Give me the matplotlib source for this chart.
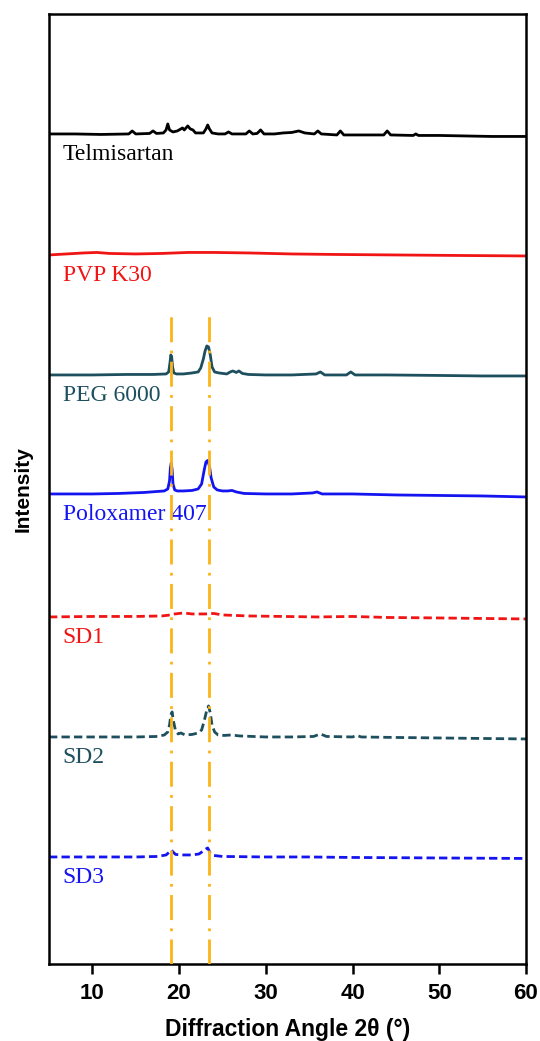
import matplotlib
matplotlib.use('Agg')
import matplotlib.pyplot as plt

# sample names, colours, line styles and vertical offsets (a.u.)
names = ['Telmisartan', 'PVP K30', 'PEG 6000', 'Poloxamer 407', 'SD1', 'SD2', 'SD3']
colors = ['#000000', '#f01414', '#1d4f5e', '#1414f0', '#f01414', '#1d4f5e', '#1414f0']
styles = ['-', '-', '-', '-', '--', '--', '--']
offsets = [830, 709, 589, 470, 347, 227, 107]

# patterns (2theta, intensity above baseline)
tel_x = [5, 8, 11, 14.2, 14.6, 15.0, 16.6, 17.0, 17.4, 18.2, 18.5, 18.7, 18.9, 19.3, 19.8, 20.2, 20.4,
         20.6, 20.8, 21.0, 21.3, 21.6, 21.9, 22.8, 23.1, 23.3, 23.5, 23.8, 24.5, 25.3, 25.7, 26.1, 27.7,
         28.1, 28.5, 29.0, 29.4, 29.8, 31.0, 32.0, 33.0, 33.8, 34.5, 35.6, 36.0, 36.4, 38.2, 38.6, 39.0,
         41.0, 43.6, 44.0, 44.4, 47.0, 47.3, 47.6, 50, 53, 56, 60]
tel_y = [0, 0, -0.5, 0, 3, 0, 0.5, 3, 0.5, 1, 4, 10, 4, 2, 3, 5, 6, 4, 6, 8, 5, 4, 1, 1, 5, 9, 5, 1,
         0, 0, 2, 0, 0, 3, 0, 0.5, 4, 0, 0, 1, 1.5, 3, 1, 0, 3, 0, -1, 3, -1, -1, -1, 3, -1, -1.5, 0,
         -1.5, -1.5, -2, -2.5, -2.5]

pvp_x = [5, 7, 9, 10.5, 12, 15, 18, 21, 24, 28, 33, 38, 45, 52, 60]
pvp_y = [0, 1, 2, 2.5, 1.5, 1, 1.5, 2.5, 2.5, 2, 1, 0.5, 0, -0.5, -1]

peg_x = [5, 10, 14, 17, 18.5, 18.8, 18.95, 19.05, 19.15, 19.25, 19.4, 19.7, 20.5, 21.5, 22.2, 22.5,
         22.8, 23.0, 23.2, 23.4, 23.6, 23.8, 24.1, 24.6, 25.5, 25.9, 26.2, 26.6, 26.9, 27.3, 28, 30,
         33, 35.8, 36.3, 36.8, 39.3, 39.8, 40.3, 44, 50, 55, 60]
peg_y = [0, 0, 0.5, 0.5, 1, 3, 12, 20, 18, 8, 2, 1, 1, 2, 3, 7, 16, 24, 29, 28, 20, 8, 3, 2, 1, 3,
         4, 2.5, 4, 1.5, 0.5, 0, 0, 1, 3, 0, 0, 3, 0, 0, -0.5, -1, -1]

pol_x = [5, 10, 13, 16, 17.5, 18.3, 18.7, 18.9, 19.0, 19.1, 19.2, 19.3, 19.5, 19.8, 20.5, 21.5, 22.2,
         22.6, 22.9, 23.1, 23.3, 23.5, 23.7, 24.0, 24.4, 25.0, 25.6, 26.1, 26.6, 27.5, 30, 33, 35.4,
         35.9, 36.5, 40, 45, 50, 55, 60]
pol_y = [0, 0, 0.5, 1.5, 2.5, 3, 5, 13, 26, 31, 24, 10, 4, 3, 3, 3.5, 5, 10, 24, 32, 33.5, 28, 16,
         7, 4, 3, 3, 3.5, 2, 0.5, 0, 0, 1, 2, 0, 0, -1, -1.5, -2, -3]

sd1_x = [5, 10, 15, 18, 19, 19.5, 20.5, 21.5, 23, 24, 25, 28, 32, 36, 40, 44, 50, 55, 60]
sd1_y = [0, 0.5, 0.5, 1, 2, 3, 4, 3, 3, 3.5, 2, 1, 0.5, 0, 0.5, -0.5, -1, -1.5, -2]

sd2_x = [5, 10, 15, 17.5, 18.3, 18.7, 18.9, 19.05, 19.2, 19.35, 19.6, 19.9, 20.2, 20.7, 21.5, 22.2,
         22.6, 22.9, 23.2, 23.4, 23.6, 23.8, 24.1, 24.5, 25.2, 26, 27, 30, 33, 35.5, 36.3, 37, 40,
         40.5, 41, 45, 50, 55, 60]
sd2_y = [0, 0, 0, 0.5, 2, 5, 12, 22, 25, 16, 6, 3, 4, 2, 2.5, 4, 7, 16, 27, 31, 24, 12, 5, 2, 1.5,
         2, 1, 0, 0, 0.5, 3, 0.5, 0, 1.5, 0, -0.5, -1, -1.5, -2]

sd3_x = [5, 10, 15, 17.5, 18.5, 18.9, 19.1, 19.3, 19.6, 20.5, 21.5, 22.3, 22.8, 23.1, 23.3, 23.6,
         24.0, 25, 30, 35, 40, 50, 60]
sd3_y = [0, 0, 0, 0.5, 2, 5, 7, 5, 2.5, 2, 2, 3, 6, 8, 9, 4, 1.5, 0.5, 0, 0, -0.5, -1, -1.5]

patterns = [(tel_x, tel_y), (pvp_x, pvp_y), (peg_x, peg_y), (pol_x, pol_y),
            (sd1_x, sd1_y), (sd2_x, sd2_y), (sd3_x, sd3_y)]

# reference peak positions
peak_pos = [19.1, 23.45]
peak_top = 652

fig = plt.figure(figsize=(5.4, 10.41), dpi=100)
ax = fig.add_axes([0.0907, 0.074, 0.8833, 0.9126])

for (px, py), name, c, ls, off in zip(patterns, names, colors, styles, offsets):
    yy = [off + v for v in py]
    if ls == '--':
        ax.plot(px, yy, color=c, lw=2, linestyle=(0, (3, 1.5)))
    else:
        ax.plot(px, yy, color=c, lw=2)
    ax.text(6.6, off - 26, name, color=c, fontsize=17, family='Liberation Serif', va='baseline')

for p in peak_pos:
    ax.plot([p, p], [0, peak_top], color='#fbb416', lw=2,
            linestyle=(0, (9, 3, 1, 3)), zorder=5)

ax.set_xlim(5, 60)
ax.set_ylim(0, 950)
ax.set_xticks([10, 20, 30, 40, 50, 60])
ax.set_yticks([])
ax.tick_params(axis='x', direction='out', length=7, width=1.8, pad=7)
for lab in ax.get_xticklabels():
    lab.set_fontsize(16)
    lab.set_fontweight('bold')
    lab.set_family('Liberation Sans')
for s in ax.spines.values():
    s.set_linewidth(1.8)

ax.set_xlabel('Diffraction Angle 2θ (°)', fontsize=16.5, fontweight='bold',
              family='Liberation Sans', labelpad=10)
ax.set_ylabel('Intensity', fontsize=15, fontweight='bold', family='Liberation Sans', labelpad=12)

fig.savefig('out.png', dpi=100)
